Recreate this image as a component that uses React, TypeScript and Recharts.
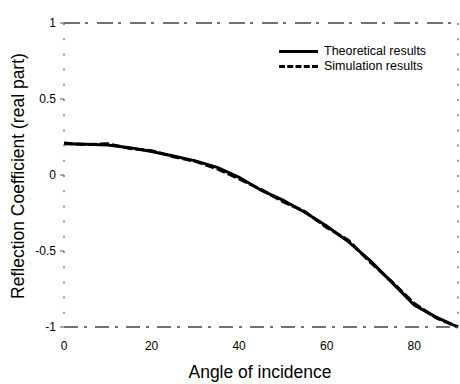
import { LineChart, Line, XAxis, YAxis, ReferenceLine } from "recharts";

const angles = [0, 5, 10, 15, 20, 25, 30, 35, 40, 45, 50, 55, 60, 65, 70, 75, 80, 85, 90];
const theoretical = [0.205, 0.203, 0.198, 0.18, 0.155, 0.125, 0.093, 0.05, -0.015, -0.1, -0.165, -0.245, -0.335, -0.44, -0.565, -0.71, -0.855, -0.935, -1.0];
const simulation = [0.21, 0.2, 0.205, 0.175, 0.16, 0.12, 0.09, 0.04, -0.025, -0.095, -0.175, -0.24, -0.345, -0.43, -0.575, -0.705, -0.845, -0.94, -1.0];
const xTicks = [0, 20, 40, 60, 80];
const yTicks = [-1, -0.5, 0, 0.5, 1];

const data = angles.map((a, i) => ({ angle: a, theo: theoretical[i], sim: simulation[i] }));

const font = "'Liberation Sans', Arial, sans-serif";

export default function App() {
  return (
    <div style={{ position: "absolute", left: 0, top: 0, width: 460, height: 384, background: "#fff", fontFamily: font }}>
      <LineChart width={460} height={384} data={data} margin={{ top: 23, right: 1, bottom: 0, left: 0 }}>
        <XAxis
          dataKey="angle"
          type="number"
          domain={[0, 90]}
          ticks={xTicks}
          height={57}
          tickSize={3}
          tickMargin={11}
          axisLine={{ stroke: "#444", strokeWidth: 1.5, strokeDasharray: "14 6 3 8" }}
          tickLine={false}
          tick={{ fill: "#000", fontSize: 12, fontFamily: font }}
        />
        <YAxis
          yAxisId="left"
          type="number"
          domain={[-1, 1]}
          ticks={yTicks}
          width={64}
          tickSize={4}
          tickMargin={4}
          interval={0}
          axisLine={{ stroke: "#555", strokeWidth: 1.2, strokeDasharray: "2 13.2" }}
          tickLine={{ stroke: "#555" }}
          tick={{ fill: "#000", fontSize: 12, fontFamily: font }}
        />
        <YAxis
          yAxisId="right"
          orientation="right"
          type="number"
          domain={[-1, 1]}
          width={1}
          tick={false}
          tickLine={false}
          axisLine={{ stroke: "#555", strokeWidth: 1.2, strokeDasharray: "2 13.2" }}
        />
        <ReferenceLine yAxisId="left" y={1} stroke="#444" strokeWidth={1.5} strokeDasharray="16 5 3 9" />
        <Line
          yAxisId="left"
          type="linear"
          dataKey="theo"
          stroke="#000"
          strokeWidth={3}
          dot={false}
          isAnimationActive={false}
        />
        <Line
          yAxisId="left"
          type="linear"
          dataKey="sim"
          stroke="#000"
          strokeWidth={3}
          strokeDasharray="9 3"
          dot={false}
          isAnimationActive={false}
        />
      </LineChart>

      {/* legend */}
      <div style={{ position: "absolute", left: 279, top: 44, fontSize: 12.5, lineHeight: "15px", color: "#000" }}>
        <div style={{ display: "flex", alignItems: "center" }}>
          <span style={{ display: "inline-block", width: 39, height: 0, borderTop: "3px solid #000", marginRight: 6 }}></span>
          Theoretical results
        </div>
        <div style={{ display: "flex", alignItems: "center" }}>
          <span style={{ display: "inline-block", width: 39, height: 0, borderTop: "3px dashed #000", marginRight: 6 }}></span>
          Simulation results
        </div>
      </div>

      {/* axis titles */}
      <div
        style={{
          position: "absolute",
          left: 18,
          top: 176,
          transform: "translate(-50%, -50%) rotate(-90deg)",
          whiteSpace: "nowrap",
          fontSize: 17.5,
          color: "#000",
        }}
      >
        Reflection Coefficient (real part)
      </div>
      <div
        style={{
          position: "absolute",
          left: 260,
          top: 372,
          transform: "translate(-50%, -50%)",
          whiteSpace: "nowrap",
          fontSize: 17.5,
          color: "#000",
        }}
      >
        Angle of incidence
      </div>
    </div>
  );
}
